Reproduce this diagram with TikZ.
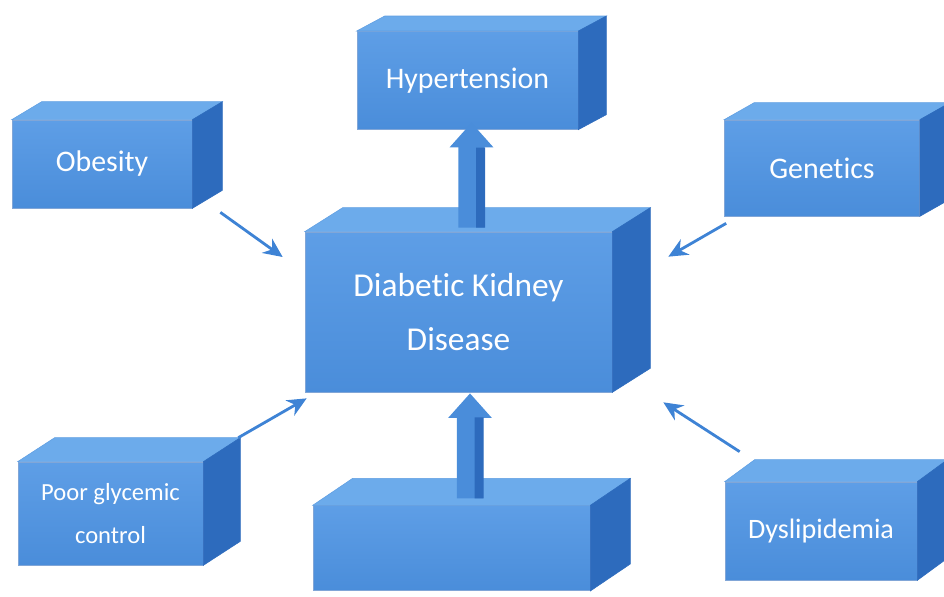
\documentclass[tikz,border=0pt]{standalone}
\usepackage{fontspec}
\setmainfont{Carlito}[Ligatures=NoCommon]
\usetikzlibrary{arrows.meta,positioning}
\definecolor{blockfront}{HTML}{4A8DDA}
\definecolor{blocklight}{HTML}{5E9EE6}
\definecolor{blocktop}{HTML}{6CABEB}
\definecolor{blockside}{HTML}{2D6BBD}
\definecolor{linkblue}{HTML}{3E83D5}
\tikzset{
  block/.style={
    rectangle, top color=blocklight, bottom color=blockfront,
    draw=blockside!60, line width=0.4pt,
    text=white, align=center, inner sep=4pt,
    font=\fontsize{17}{20}\selectfont
  },
  topface/.style={fill=blocktop, draw=blocktop!80!blockside, line width=0.3pt},
  sideface/.style={fill=blockside, draw=blockside, line width=0.3pt},
  thinarrow/.style={
    -{Stealth[length=11pt, width=10pt]}, line width=1.6pt, color=linkblue
  },
  bigarrow/.style={
    -{Triangle[length=14pt, width=24pt]}, line width=15pt, color=#1
  },
  bigarrow/.default=blockfront,
  shaftside/.style={line width=0.18cm, color=blockside},
}
% top and right faces of a block (depth given in px)
\newcommand{\blockfaces}[3]{%
  \path[topface] (#1.north west) -- ++(#2,#3) -- ([shift={(#2,#3)}]#1.north east)
    -- (#1.north east) -- cycle;
  \path[sideface] (#1.north east) -- ++(#2,#3) -- ([shift={(#2,#3)}]#1.south east)
    -- (#1.south east) -- cycle;
}

\begin{document}
\begin{tikzpicture}[x=0.02cm, y=-0.02cm]
\useasboundingbox (0,0) rectangle (944,596);

% Central block
\node[block, minimum width=6.14cm, minimum height=3.2cm,
  font=\fontsize{19}{31}\selectfont] (dkd) at (458.5,312) {Diabetic Kidney\\Disease};
\blockfaces{dkd}{38}{-24}

% Top and bottom blocks
\node[block, minimum width=4.42cm, minimum height=1.96cm,
  above=2.04cm of dkd, xshift=0.18cm] (hyp) {Hypertension};
\blockfaces{hyp}{28}{-15}
\node[block, minimum width=5.54cm, minimum height=1.7cm,
  below=2.26cm of dkd, xshift=-0.14cm] (base) {};
\blockfaces{base}{40}{-27}

% Corner blocks
\node[block, minimum width=3.6cm, minimum height=1.76cm] (obes) at (102,164) {Obesity};
\blockfaces{obes}{30}{-18}
\node[block, minimum width=3.9cm, minimum height=1.92cm] (gen) at (822,168) {Genetics};
\blockfaces{gen}{30}{-17}
\node[block, minimum width=3.7cm, minimum height=2.06cm,
  font=\fontsize{14}{24}\selectfont] (poor) at (110.5,513.5) {Poor glycemic\\control};
\blockfaces{poor}{37}{-24}
\node[block, minimum width=3.84cm, minimum height=1.96cm,
  font=\fontsize{16}{20}\selectfont] (dys) at (821,531) {Dyslipidemia};
\blockfaces{dys}{30}{-22}

% Thick arrows
\draw[bigarrow] ([shift={(13,-4)}]dkd.north) -- ([shift={(4,-7)}]hyp.south);
\draw[shaftside] ([shift={(22,-4)}]dkd.north) -- ([shift={(13,18)}]hyp.south);
\draw[bigarrow] ([shift={(18.5,-7)}]base.north) -- ([shift={(11.5,1)}]dkd.south);
\draw[shaftside] ([shift={(27.5,-7)}]base.north) -- ([shift={(20.5,25)}]dkd.south);

% Thin arrows into the centre
\draw[thinarrow] ([shift={(28,4)}]obes.south east) -- ([shift={(-22,-55)}]dkd.west);
\draw[thinarrow] ([shift={(2,7)}]gen.south west) -- ([shift={(56,25)}]dkd.north east);
\draw[thinarrow] ([shift={(35,-24)}]poor.north east) -- ([shift={(2,6)}]dkd.south west);
\draw[thinarrow] ([shift={(15,-30)}]dys.north west) -- ([shift={(51,10)}]dkd.south east);

\end{tikzpicture}
\end{document}
